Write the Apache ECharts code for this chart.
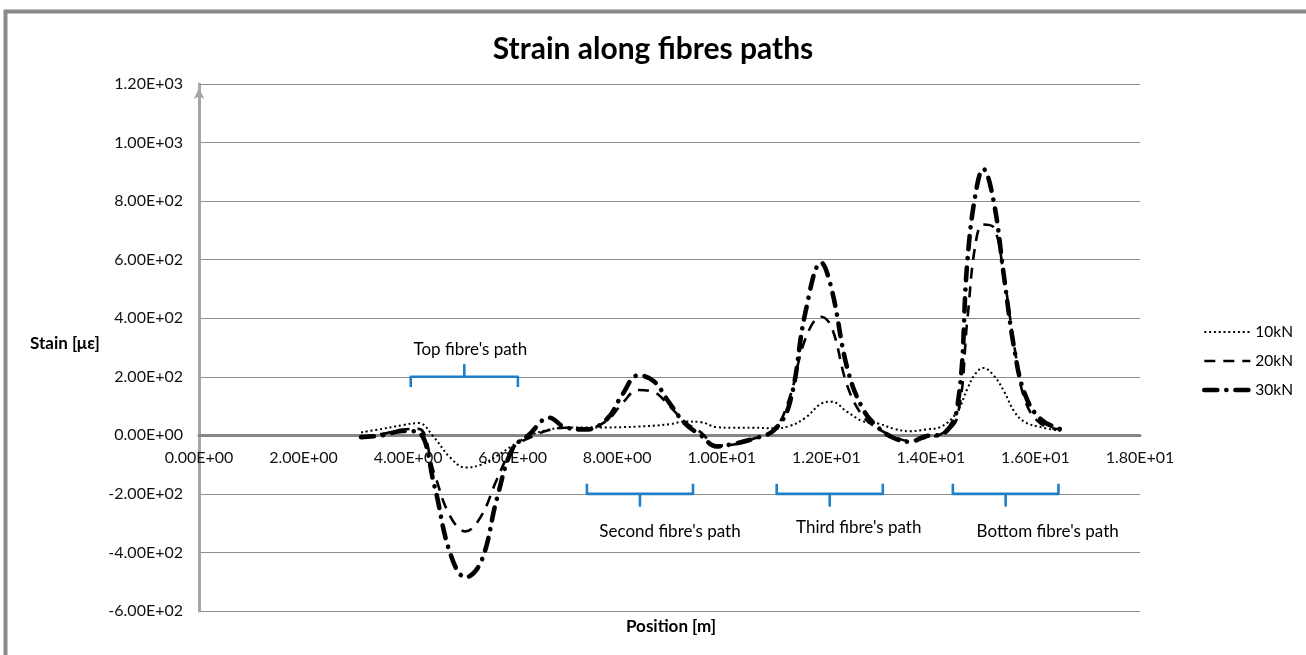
<!DOCTYPE html>
<html>
<head>
<meta charset="utf-8">
<title>Strain along fibres paths</title>
<script src="https://cdn.jsdelivr.net/npm/echarts@6/dist/echarts.min.js"></script>
<style>
  html, body { margin: 0; padding: 0; background: #ffffff; }
  #chart { width: 1306px; height: 655px; }
</style>
</head>
<body>
<div id="chart"></div>
<script>
// Measurement positions along the fibre run [m]
const positions = [3.1, 3.5, 3.9, 4.2, 4.5, 4.8, 5.1, 5.4, 5.7, 6.0,
  6.3, 6.7, 7.0, 7.4, 7.8, 8.1, 8.4, 8.7, 9.0, 9.3,
  9.6, 9.9, 10.2, 10.6, 11.0, 11.3, 11.6, 11.9, 12.1, 12.4,
  12.7, 13.0, 13.3, 13.6, 13.9, 14.2, 14.5, 14.7, 14.85, 15.0,
  15.2, 15.4, 15.6, 15.8, 16.1, 16.5];

// Strain [µε] for each load step
const strain10kN = [10, 22, 35, 42, -8, -75, -110, -100, -70, -35,
  -3, 20, 26, 27, 27, 28, 30, 33, 38, 47,
  45, 28, 26, 26, 24, 32, 60, 108, 115, 80,
  48, 40, 22, 14, 20, 30, 80, 160, 210, 230,
  205, 150, 80, 45, 28, 14];

const strain20kN = [-4, 5, 20, 22, -130, -275, -328, -275, -150, -45,
  -10, 18, 26, 24, 50, 110, 155, 148, 100, 45,
  10, -35, -32, -12, 18, 130, 330, 405, 370, 170,
  65, 22, -5, -20, -8, 5, 60, 400, 650, 720,
  710, 540, 300, 120, 40, 20];

const strain30kN = [-6, 0, 15, 10, -170, -400, -485, -430, -215, -45,
  0, 60, 28, 20, 55, 140, 205, 185, 110, 40,
  0, -38, -30, -12, 18, 110, 420, 590, 500, 230,
  90, 25, -10, -22, -3, 3, 90, 600, 820, 910,
  800, 540, 290, 140, 55, 20];

const seriesNames = ['10kN', '20kN', '30kN'];

// Extent of each fibre's path [m] and the strain level its brace sits at
const pathNames = ["Top fibre's path", "Second fibre's path", "Third fibre's path", "Bottom fibre's path"];
const pathStart = [4.05, 7.42, 11.05, 14.42];
const pathEnd = [6.1, 9.45, 13.08, 16.44];
const pathLevel = [200, -200, -200, -200];

const yTicks = { min: -600, max: 1200, step: 200 };
const xTicks = { min: 0, max: 18, step: 2 };

function sci(v) {
  const s = Number(v).toExponential(2);
  const parts = s.split('e');
  const sign = parts[1][0];
  const digits = parts[1].slice(1).padStart(2, '0');
  return parts[0] + 'E' + sign + digits;
}

const FONT = 'Lato, "Open Sans", sans-serif';
const BLUE = '#1f7fc8';

// Plot box
const W = 1306, H = 655;
const gridBox = { left: 199, right: 166, top: 84, bottom: 44 };
const plotH = H - gridBox.top - gridBox.bottom;
// The position axis runs along strain = 0, labels next to it
const zeroLift = plotH * (0 - yTicks.min) / (yTicks.max - yTicks.min);

function pairs(ys) { return positions.map((x, i) => [x, ys[i]]); }

// Brace polylines: turned-back ends, a bar, and a centre tip pointing at the label
const braceData = [];
const labelData = [];
pathStart.forEach((a, i) => {
  const b = pathEnd[i];
  const lvl = pathLevel[i];
  const dir = lvl > 0 ? 1 : -1;
  const c = (a + b) / 2;
  const endY = lvl - dir * 35;
  const tipY = lvl + dir * 40;
  braceData.push([a, endY], [a, lvl], [c, lvl], [c, tipY], [c, lvl], [b, lvl], [b, endY], [null, null]);
  labelData.push({ value: [c, tipY], name: pathNames[i] });
});

const labelOffsets = [[6, -16], [30, 26], [29, 22], [42, 26]];

const chart = echarts.init(document.getElementById('chart'), null, { renderer: 'canvas' });

chart.setOption({
  animation: false,
  backgroundColor: '#ffffff',
  textStyle: { fontFamily: FONT },
  title: {
    text: 'Strain along fibres paths',
    left: 'center',
    top: 29,
    textStyle: { fontFamily: FONT, fontSize: 30, fontWeight: 'bold', color: '#000' }
  },
  grid: Object.assign({ containLabel: false }, gridBox),
  legend: {
    data: seriesNames,
    orient: 'vertical',
    left: 1197,
    top: 319,
    itemWidth: 46,
    itemHeight: 12,
    itemGap: 13,
    itemStyle: { opacity: 0 },
    lineStyle: { width: 'inherit', type: 'inherit', cap: 'inherit' },
    textStyle: { fontFamily: FONT, fontSize: 15.5, color: '#000' }
  },
  xAxis: {
    type: 'value',
    position: 'bottom',
    offset: -zeroLift,
    min: xTicks.min, max: xTicks.max, interval: xTicks.step,
    axisLine: { onZero: false, lineStyle: { color: '#868686', width: 3 } },
    axisTick: { show: false },
    splitLine: { show: false },
    axisLabel: { formatter: sci, margin: 15, fontSize: 16, color: '#111', fontFamily: FONT, showMinLabel: true, showMaxLabel: true }
  },
  yAxis: {
    type: 'value',
    min: yTicks.min, max: yTicks.max, interval: yTicks.step,
    axisLine: { show: true, onZero: false, symbol: ['none', 'arrow'], symbolSize: [8, 11], symbolOffset: [0, -4], lineStyle: { color: '#a6a6a6', width: 3 } },
    axisTick: { show: false },
    splitLine: { show: true, lineStyle: { color: '#8c8c8c', width: 1 } },
    axisLabel: { formatter: sci, margin: 16, fontSize: 16, color: '#111', fontFamily: FONT }
  },
  graphic: [
    { type: 'rect', left: 3, top: 9, shape: { width: 1400, height: 700 }, style: { fill: 'none', stroke: '#8a8a8a', lineWidth: 4 }, silent: true },
    { type: 'text', left: 30, top: 335, style: { text: 'Stain [με]', fontFamily: FONT, fontSize: 17, fontWeight: 'bold', fill: '#000' } },
    { type: 'text', left: 626, top: 618, style: { text: 'Position [m]', fontFamily: FONT, fontSize: 17, fontWeight: 'bold', fill: '#000' } }
  ],
  series: [
    {
      name: '10kN', type: 'line', data: pairs(strain10kN), smooth: 0.4, symbol: 'none', z: 4,
      itemStyle: { color: '#000' },
      lineStyle: { color: '#000', width: 2, type: [2, 2.8] }
    },
    {
      name: '20kN', type: 'line', data: pairs(strain20kN), smooth: 0.4, symbol: 'none', z: 3,
      itemStyle: { color: '#000' },
      lineStyle: { color: '#000', width: 2.6, type: [11, 8] }
    },
    {
      name: '30kN', type: 'line', data: pairs(strain30kN), smooth: 0.4, symbol: 'none', z: 2,
      itemStyle: { color: '#000' },
      lineStyle: { color: '#000', width: 4.6, type: [13, 9, 0.1, 9], cap: 'round' }
    },
    {
      name: 'braces', type: 'line', data: braceData, symbol: 'none', connectNulls: false, z: 5,
      lineStyle: { color: BLUE, width: 2.6, join: 'round' }, silent: true
    },
    {
      name: 'pathLabels', type: 'scatter', symbolSize: 0, z: 6, silent: true,
      itemStyle: { opacity: 1, color: '#000' },
      data: labelData.map((d, i) => ({
        value: d.value, name: d.name,
        label: { offset: labelOffsets[i] }
      })),
      label: {
        show: true, position: 'inside', formatter: p => p.name, opacity: 1,
        fontFamily: FONT, fontSize: 17, color: '#000'
      }
    }
  ]
});
</script>
</body>
</html>
